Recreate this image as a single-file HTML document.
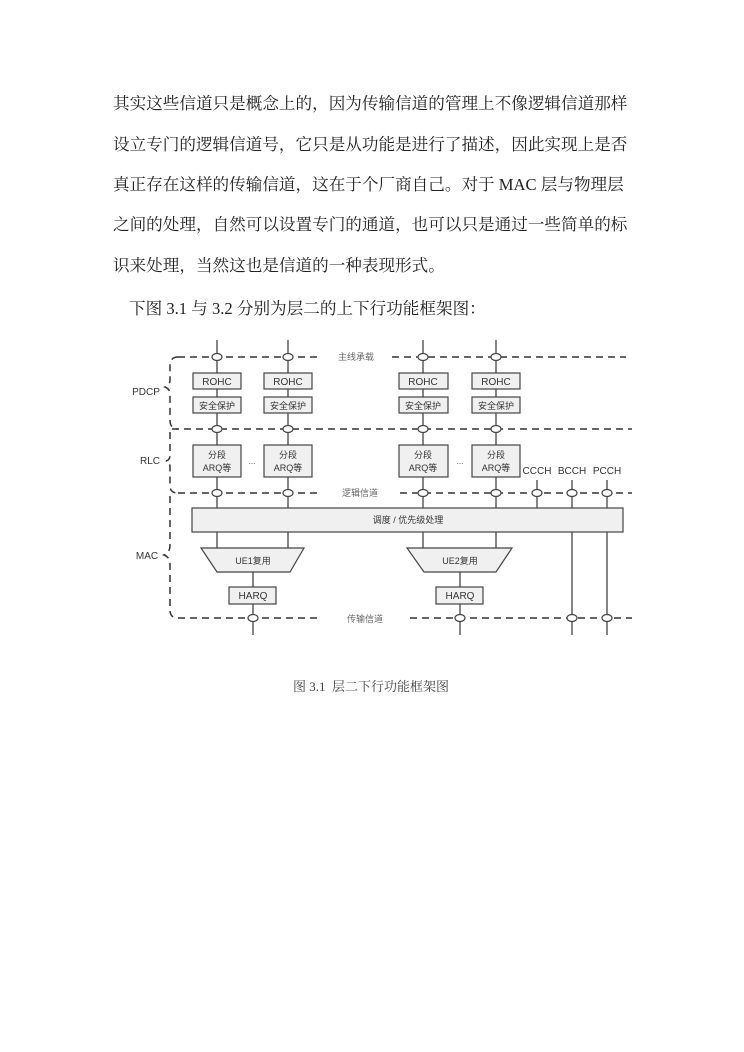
<!DOCTYPE html>
<html><head><meta charset="utf-8">
<style>
body{margin:0;background:#fff;}
.p{position:absolute;left:113px;font-family:"Liberation Serif","Noto Serif CJK SC",serif;font-size:16.6px;color:#222;white-space:nowrap;line-height:20px;}
</style></head><body>
<div style="position:relative;width:744px;height:1052px;overflow:hidden;">
<div class="p" style="top:94px;">其实这些信道只是概念上的，因为传输信道的管理上不像逻辑信道那样</div>
<div class="p" style="top:135px;">设立专门的逻辑信道号，它只是从功能是进行了描述，因此实现上是否</div>
<div class="p" style="top:175px;">真正存在这样的传输信道，这在于个厂商自己。对于 MAC 层与物理层</div>
<div class="p" style="top:215px;">之间的处理，自然可以设置专门的通道，也可以只是通过一些简单的标</div>
<div class="p" style="top:256px;">识来处理，当然这也是信道的一种表现形式。</div>
<div class="p" style="top:299px;left:129px;">下图 3.1 与 3.2 分别为层二的上下行功能框架图：</div>
<div class="p" style="top:677px;left:293px;font-size:13px;color:#444;">图 3.1&nbsp; 层二下行功能框架图</div>
<svg width="744" height="1052" style="position:absolute;left:0;top:0" font-family="Liberation Sans, Noto Sans CJK SC, sans-serif">
<g stroke="#444" stroke-width="1.3" fill="none">
<line x1="217" y1="340" x2="217" y2="508"/>
<line x1="288" y1="340" x2="288" y2="508"/>
<line x1="423" y1="340" x2="423" y2="508"/>
<line x1="496" y1="340" x2="496" y2="508"/>
<line x1="537" y1="480" x2="537" y2="508"/>
<line x1="572" y1="480" x2="572" y2="635"/>
<line x1="607" y1="480" x2="607" y2="635"/>
<line x1="217" y1="532" x2="217" y2="548"/>
<line x1="288" y1="532" x2="288" y2="548"/>
<line x1="423" y1="532" x2="423" y2="548"/>
<line x1="496" y1="532" x2="496" y2="548"/>
<line x1="253" y1="572" x2="253" y2="635"/>
<line x1="460" y1="572" x2="460" y2="635"/>
</g>
<g stroke="#333" stroke-width="1.5" stroke-dasharray="7,5" fill="none">
<line x1="178" y1="357" x2="320" y2="357"/><line x1="392" y1="357" x2="626" y2="357"/>
<line x1="172" y1="429" x2="632" y2="429"/>
<line x1="178" y1="493" x2="320" y2="493"/><line x1="400" y1="493" x2="632" y2="493"/>
<line x1="178" y1="618" x2="320" y2="618"/><line x1="410" y1="618" x2="632" y2="618"/>
<path d="M178 357 Q170 357 170 366 L170 380 Q170 385 165 387 Q170 389 170 394 L170 420 Q170 429 178 429"/>
<path d="M170 432 L170 455 Q170 460 166 461 Q170 462 170 467 L170 486 Q170 493 178 493"/>
<path d="M170 496 L170 545 Q170 553 164 555 Q170 557 170 565 L170 610 Q170 618 178 618"/>
</g>
<g fill="#fff" stroke="#444" stroke-width="1.2">
<ellipse cx="217" cy="357" rx="5" ry="3.5"/><ellipse cx="288" cy="357" rx="5" ry="3.5"/><ellipse cx="423" cy="357" rx="5" ry="3.5"/><ellipse cx="496" cy="357" rx="5" ry="3.5"/>
<ellipse cx="217" cy="429" rx="5" ry="3.5"/><ellipse cx="288" cy="429" rx="5" ry="3.5"/><ellipse cx="423" cy="429" rx="5" ry="3.5"/><ellipse cx="496" cy="429" rx="5" ry="3.5"/>
<ellipse cx="217" cy="493" rx="5" ry="3.5"/><ellipse cx="288" cy="493" rx="5" ry="3.5"/><ellipse cx="423" cy="493" rx="5" ry="3.5"/><ellipse cx="496" cy="493" rx="5" ry="3.5"/>
<ellipse cx="537" cy="493" rx="5" ry="3.5"/><ellipse cx="572" cy="493" rx="5" ry="3.5"/><ellipse cx="607" cy="493" rx="5" ry="3.5"/>
<ellipse cx="253" cy="618" rx="5" ry="3.5"/><ellipse cx="460" cy="618" rx="5" ry="3.5"/><ellipse cx="572" cy="618" rx="5" ry="3.5"/><ellipse cx="607" cy="618" rx="5" ry="3.5"/>
</g>
<g fill="#f0f0f0" stroke="#444" stroke-width="1.2">
<rect x="193" y="373" width="48" height="16"/><rect x="264" y="373" width="48" height="16"/><rect x="399" y="373" width="49" height="16"/><rect x="472" y="373" width="48" height="16"/>
<rect x="193" y="397" width="48" height="16"/><rect x="264" y="397" width="48" height="16"/><rect x="399" y="397" width="49" height="16"/><rect x="472" y="397" width="48" height="16"/>
<rect x="193" y="445" width="48" height="32"/><rect x="264" y="445" width="48" height="32"/><rect x="399" y="445" width="49" height="32"/><rect x="472" y="445" width="48" height="32"/>
<rect x="192" y="508" width="431" height="24"/>
<polygon points="201,548 304,548 290,572 217,572"/>
<polygon points="407,548 512,548 496,572 424,572"/>
<rect x="229" y="587" width="47" height="17"/><rect x="436" y="587" width="47" height="17"/>
</g>
<g font-size="10" fill="#333" text-anchor="middle">
<text x="217" y="385">ROHC</text><text x="288" y="385">ROHC</text><text x="423" y="385">ROHC</text><text x="496" y="385">ROHC</text>
<text x="217" y="409" font-size="9">安全保护</text><text x="288" y="409" font-size="9">安全保护</text><text x="423" y="409" font-size="9">安全保护</text><text x="496" y="409" font-size="9">安全保护</text>
<text x="217" y="458" font-size="9">分段</text><text x="217" y="471" font-size="9">ARQ等</text>
<text x="288" y="458" font-size="9">分段</text><text x="288" y="471" font-size="9">ARQ等</text>
<text x="423" y="458" font-size="9">分段</text><text x="423" y="471" font-size="9">ARQ等</text>
<text x="496" y="458" font-size="9">分段</text><text x="496" y="471" font-size="9">ARQ等</text>
<text x="252" y="464" font-size="8">...</text><text x="460" y="464" font-size="8">...</text>
<text x="537" y="474">CCCH</text><text x="572" y="474">BCCH</text><text x="607" y="474">PCCH</text>
<text x="356" y="360" font-size="9" fill="#666">主线承载</text>
<text x="360" y="496" font-size="9" fill="#666">逻辑信道</text>
<text x="365" y="622" font-size="9" fill="#666">传输信道</text>
<text x="408" y="523" font-size="9">调度 / 优先级处理</text>
<text x="253" y="564" font-size="9">UE1复用</text><text x="460" y="564" font-size="9">UE2复用</text>
<text x="253" y="599">HARQ</text><text x="460" y="599">HARQ</text>
<text x="146" y="395">PDCP</text><text x="150" y="464">RLC</text><text x="147" y="559">MAC</text>
</g>
</svg>
</div>
</body></html>
